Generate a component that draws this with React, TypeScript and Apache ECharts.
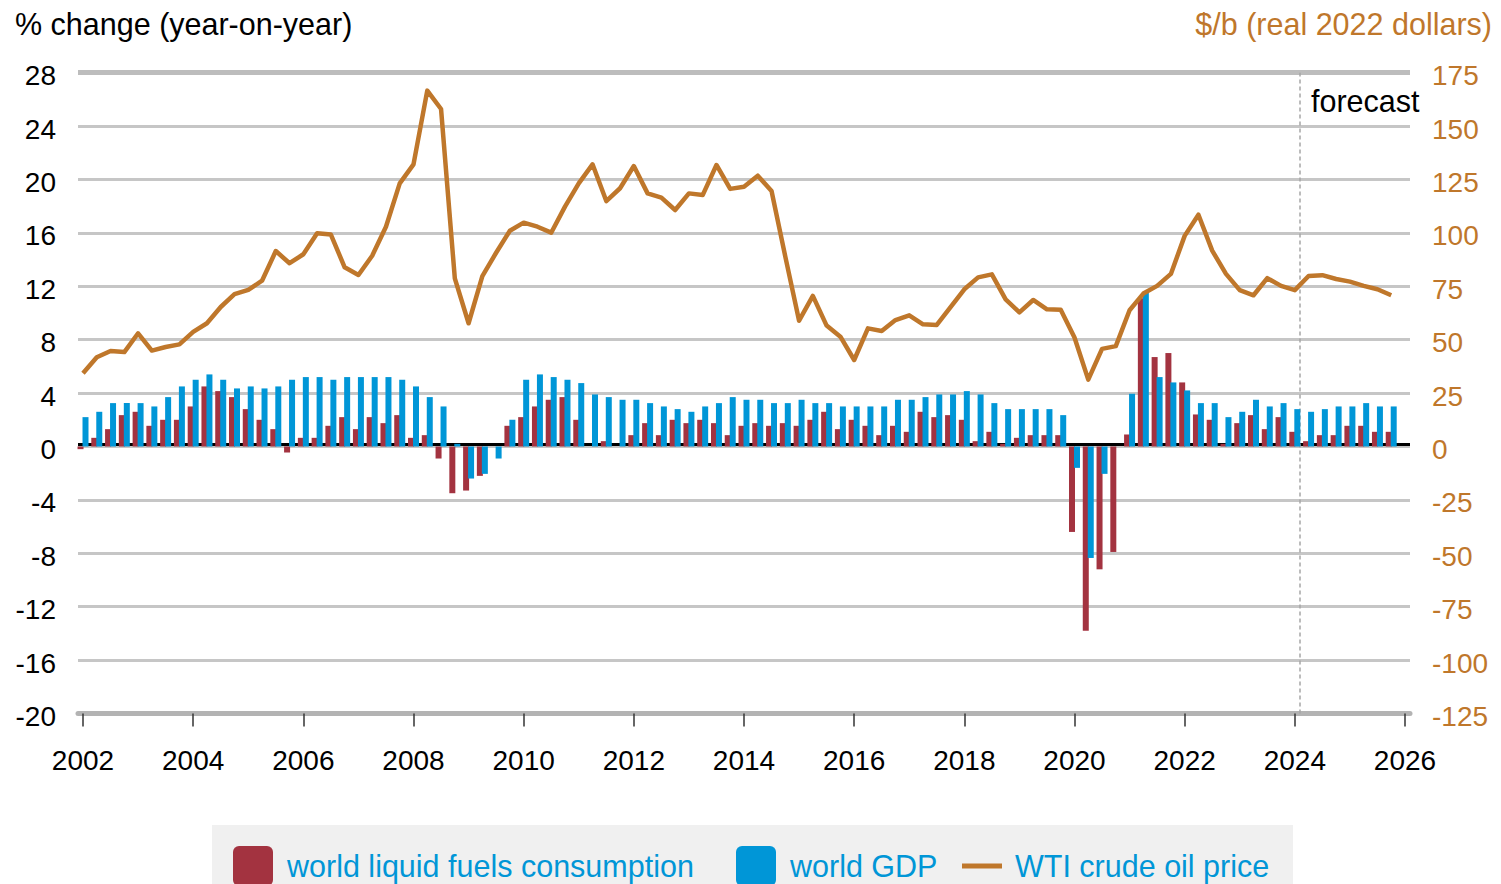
import React, { useEffect, useRef } from "react";
import * as echarts from "echarts";

const START_YEAR = 2002;
const yearTicks = [2002, 2004, 2006, 2008, 2010, 2012, 2014, 2016, 2018, 2020, 2022, 2024, 2026];
const forecastStart = 2024.09;

const seriesNames = ["world liquid fuels consumption", "world GDP", "WTI crude oil price"];

// % change (year-on-year), quarterly 2002Q1..2025Q4
const liquidFuels = [
  -0.2, 0.65, 1.3, 2.35, 2.6, 1.55, 2.0, 2.0, 3.0, 4.5,
  4.15, 3.7, 2.8, 2.0, 1.3, -0.45, 0.65, 0.65, 1.55, 2.2,
  1.3, 2.2, 1.75, 2.35, 0.65, 0.85, -0.9, -3.5, -3.3, -2.2,
  0, 1.55, 2.2, 3.0, 3.5, 3.7, 2.0, 0, 0.4, 0,
  0.85, 1.75, 0.85, 2.0, 1.75, 2.0, 1.75, 0.85, 1.55, 1.75,
  1.55, 1.75, 1.55, 2.0, 2.6, 1.3, 2.0, 1.55, 0.85, 1.55,
  1.1, 2.6, 2.2, 2.35, 2.0, 0.4, 1.1, 0.2, 0.65, 0.85,
  0.85, 0.85, -6.4, -13.8, -9.2, -7.9, 0.9, 11.1, 6.7, 7.0,
  4.8, 2.4, 2.0, 0.2, 1.75, 2.35, 1.3, 2.2, 1.1, 0.4,
  0.85, 0.85, 1.55, 1.55, 1.1, 1.1,
];

const worldGDP = [
  2.2, 2.6, 3.25, 3.25, 3.25, 3.0, 3.7, 4.5, 5.0, 5.4,
  5.0, 4.35, 4.5, 4.35, 4.5, 5.0, 5.2, 5.2, 5.0, 5.2,
  5.2, 5.2, 5.2, 5.0, 4.5, 3.7, 3.0, 0.2, -2.4, -2.05,
  -0.9, 2.0, 5.0, 5.4, 5.2, 5.0, 4.75, 3.9, 3.7, 3.5,
  3.5, 3.25, 3.0, 2.8, 2.6, 3.0, 3.25, 3.7, 3.5, 3.5,
  3.25, 3.25, 3.5, 3.25, 3.25, 3.0, 3.0, 3.0, 3.0, 3.5,
  3.5, 3.7, 3.9, 3.9, 4.15, 3.9, 3.25, 2.8, 2.8, 2.8,
  2.8, 2.35, -1.6, -8.35, -2.05, 0, 3.95, 11.5, 5.2, 4.8,
  4.2, 3.25, 3.25, 2.2, 2.6, 3.5, 3.0, 3.25, 2.8, 2.6,
  2.8, 3.0, 3.0, 3.25, 3.0, 3.0,
];

// $/b (real 2022 dollars)
const wtiPrice = [
  34.3, 41.8, 44.7, 44.2, 53.0, 44.9, 46.6, 47.8, 53.7, 57.7,
  65.3, 71.3, 73.3, 77.6, 91.5, 85.8, 90.0, 99.8, 99.2, 83.9,
  80.3, 89.3, 102.9, 123.2, 132.1, 166.6, 158.0, 78.7, 57.7, 79.8,
  90.7, 101.0, 104.8, 102.9, 100.1, 112.3, 123.2, 132.1, 114.9, 120.9,
  131.3, 118.5, 116.5, 110.7, 118.5, 117.7, 131.8, 120.6, 121.6, 126.8,
  119.6, 88.9, 58.9, 70.5, 56.6, 51.4, 40.5, 55.3, 54.1, 59.2,
  61.4, 57.2, 56.9, 65.2, 73.6, 79.2, 80.6, 68.9, 62.8, 68.6,
  64.2, 64.0, 51.0, 31.3, 45.7, 47.0, 63.8, 71.6, 75.2, 80.8,
  98.6, 108.5, 91.7, 80.8, 73.2, 70.8, 78.8, 75.2, 73.2, 79.8,
  80.2, 78.4, 77.2, 75.2, 73.6, 70.8,
];

const RED = "#a33340";
const BLUE = "#0096d7";
const ORANGE = "#bf772b";
const FONT = "'Liberation Sans', Arial, Helvetica, sans-serif";
const ROUND_ICON =
  "path://M6,0H34A6,6 0 0 1 40,6V34A6,6 0 0 1 34,40H6A6,6 0 0 1 0,34V6A6,6 0 0 1 6,0Z";

const toXY = (arr: number[]) => arr.map((v, i) => [START_YEAR + i / 4, v]);

export default function App() {
  const ref = useRef<HTMLDivElement>(null);

  useEffect(() => {
    if (!ref.current) return;
    const chart = echarts.init(ref.current, null, { renderer: "svg" });

    const legendText = {
      fontSize: 30.5,
      color: BLUE,
      fontFamily: FONT,
      lineHeight: 40,
      padding: [0, 0, 0, 9],
    };

    const yLabel = {
      fontSize: 28,
      fontFamily: FONT,
      margin: 22,
      verticalAlign: "top",
      lineHeight: 6,
    };

    const option: any = {
      animation: false,
      backgroundColor: "#ffffff",
      grid: { left: 78, right: 91, top: 72.7, bottom: 170.5, containLabel: false },
      graphic: [
        {
          type: "rect",
          shape: { x: 212, y: 825, width: 1081, height: 70 },
          style: { fill: "#f0f0f0" },
          z: 0,
        },
        {
          type: "text",
          x: 15,
          y: 24,
          style: {
            text: "% change (year-on-year)",
            font: `30.5px ${FONT}`,
            fill: "#000000",
            textAlign: "left",
            textVerticalAlign: "middle",
          },
        },
        {
          type: "text",
          x: 1492,
          y: 24,
          style: {
            text: "$/b (real 2022 dollars)",
            font: `30.5px ${FONT}`,
            fill: ORANGE,
            textAlign: "right",
            textVerticalAlign: "middle",
          },
        },
        {
          type: "text",
          x: 1311,
          y: 101,
          z: 10,
          style: {
            text: "forecast",
            font: `30.5px ${FONT}`,
            fill: "#000000",
            textAlign: "left",
            textVerticalAlign: "middle",
          },
        },
      ],
      legend: [
        {
          data: [seriesNames[0]],
          left: 233,
          top: 846,
          padding: 0,
          itemWidth: 40,
          itemHeight: 40,
          icon: ROUND_ICON,
          selectedMode: false,
          textStyle: legendText,
        },
        {
          data: [seriesNames[1]],
          left: 736,
          top: 846,
          padding: 0,
          itemWidth: 40,
          itemHeight: 40,
          icon: ROUND_ICON,
          selectedMode: false,
          textStyle: legendText,
        },
        {
          data: [seriesNames[2]],
          left: 962,
          top: 846,
          padding: 0,
          itemWidth: 40,
          itemHeight: 5,
          icon: "rect",
          selectedMode: false,
          textStyle: { ...legendText, padding: [0, 0, 0, 8] },
        },
      ],
      xAxis: {
        type: "value",
        min: 2001.909,
        max: 2026.091,
        splitLine: { show: false },
        axisLine: { show: true, onZero: false, lineStyle: { color: "#b3b3b3", width: 5 } },
        axisTick: {
          show: true,
          customValues: yearTicks,
          length: 13,
          lineStyle: { color: "#333333", width: 1.5 },
        },
        axisLabel: {
          customValues: yearTicks,
          fontSize: 28,
          color: "#000000",
          fontFamily: FONT,
          margin: 33,
          formatter: (v: number) => String(Math.round(v)),
        },
      },
      yAxis: [
        {
          type: "value",
          min: -20,
          max: 28,
          interval: 4,
          axisLine: { show: false },
          axisTick: { show: false },
          splitLine: { show: true, lineStyle: { color: "#c6c6c6", width: 3 } },
          axisLabel: { ...yLabel, color: "#000000" },
        },
        {
          type: "value",
          min: -125,
          max: 175,
          interval: 25,
          position: "right",
          axisLine: { show: false },
          axisTick: { show: false },
          splitLine: { show: false },
          axisLabel: { ...yLabel, color: ORANGE },
        },
      ],
      series: [
        {
          name: seriesNames[0],
          type: "bar",
          data: toXY(liquidFuels),
          barWidth: 6,
          barGap: "-17%",
          itemStyle: { color: RED },
          color: RED,
          z: 2,
          markLine: {
            silent: true,
            symbol: "none",
            z: 1,
            label: { show: false },
            data: [
              { yAxis: 0.2, lineStyle: { color: "#000000", width: 3, type: "solid" } },
              { yAxis: 28, lineStyle: { color: "#bdbdbd", width: 5, type: "solid" } },
            ],
          },
        },
        {
          name: seriesNames[1],
          type: "bar",
          data: toXY(worldGDP),
          barWidth: 6,
          barGap: "-17%",
          itemStyle: { color: BLUE },
          color: BLUE,
          z: 3,
        },
        {
          name: seriesNames[2],
          type: "line",
          yAxisIndex: 1,
          data: toXY(wtiPrice),
          showSymbol: false,
          symbol: "none",
          color: ORANGE,
          itemStyle: { color: ORANGE },
          lineStyle: { color: ORANGE, width: 4.5, join: "round" },
          z: 5,
          markLine: {
            silent: true,
            symbol: "none",
            z: 1,
            label: { show: false },
            data: [
              { xAxis: forecastStart, lineStyle: { color: "#a6a6a6", width: 1.5, type: [4, 3] } },
            ],
          },
        },
      ],
    };

    chart.setOption(option);
    return () => chart.dispose();
  }, []);

  return (
    <div
      ref={ref}
      style={{ position: "fixed", left: 0, top: 0, width: 1501, height: 884, background: "#fff" }}
    />
  );
}
